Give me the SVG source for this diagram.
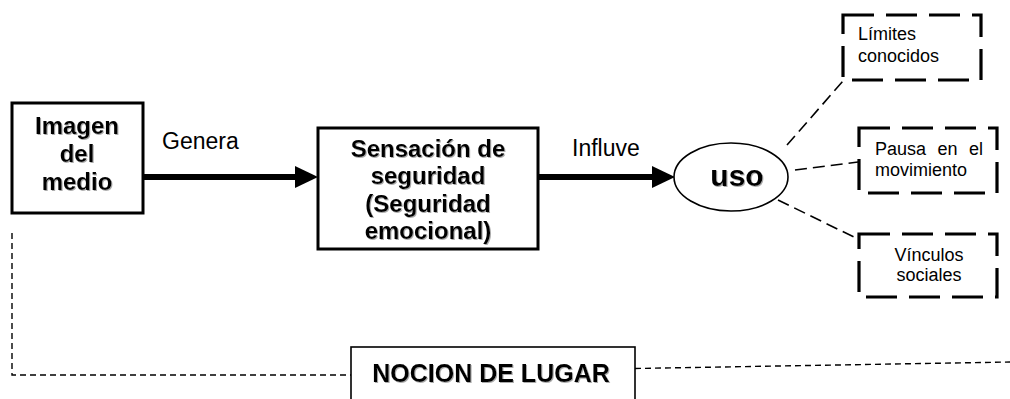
<svg xmlns="http://www.w3.org/2000/svg" width="1010" height="399" viewBox="0 0 1010 399">
<defs>
<style>
.box{fill:#fff;stroke:#000;stroke-width:3}
.thin{fill:#fff;stroke:#000;stroke-width:1.6}
.dbox{fill:#fff;stroke:#000;stroke-width:3.2;stroke-dasharray:31 12}
.shaft{stroke:#000;stroke-width:6;fill:none}
.dl{stroke:#000;stroke-width:1.6;stroke-dasharray:12 6;fill:none}
.dot{stroke:#000;stroke-width:1.4;stroke-dasharray:6 4;fill:none}
.b{font-family:"Liberation Sans",Arial,sans-serif;font-weight:bold;fill:#000;text-anchor:middle;filter:url(#sh)}
.r{font-family:"Liberation Sans",Arial,sans-serif;fill:#000}
.s{font-family:"Liberation Sans",Arial,sans-serif;fill:#000;font-size:18px}
</style>
<filter id="sh" x="-10%" y="-10%" width="130%" height="140%">
<feDropShadow dx="1" dy="1" stdDeviation="0.6" flood-color="#888" flood-opacity="0.7"/>
</filter>
</defs>
<g id="connectors">
<line class="shaft" x1="143" y1="177" x2="296" y2="177"/>
<path d="M295,166 L318,177 L295,188 z" fill="#000"/>
<line class="shaft" x1="538" y1="177" x2="653" y2="177"/>
<path d="M652,166 L675,177 L652,188 z" fill="#000"/>
<line class="dl" x1="787" y1="145" x2="843" y2="81"/>
<line class="dl" x1="795" y1="170" x2="858" y2="162"/>
<line class="dl" x1="778" y1="200" x2="860" y2="240"/>
<polyline class="dot" points="12,233 12,375 351,375"/>
<line class="dot" x1="635" y1="368.5" x2="1010" y2="362"/>
</g>
<g id="imagen">
<rect class="box" x="12" y="103" width="131" height="110"/>
<text class="b" font-size="24" x="77" y="134">Imagen</text>
<text class="b" font-size="24" x="77" y="162">del</text>
<text class="b" font-size="24" x="77" y="190">medio</text>
</g>
<g id="genera">
<text class="r" font-size="23" x="162" y="149">Genera</text>
</g>
<g id="sensacion">
<rect class="box" x="318" y="128" width="220" height="121"/>
<text class="b" font-size="24" x="428" y="157">Sensación de</text>
<text class="b" font-size="24" x="428" y="184">seguridad</text>
<text class="b" font-size="24" x="428" y="212">(Seguridad</text>
<text class="b" font-size="24" x="428" y="239">emocional)</text>
</g>
<g id="influve">
<text class="r" font-size="23" x="572" y="156">Influve</text>
</g>
<g id="uso">
<ellipse cx="731" cy="177" rx="57" ry="34" fill="#fff" stroke="#000" stroke-width="1.6"/>
<text class="b" font-size="30" x="737" y="186">uso</text>
</g>
<g id="limites">
<rect class="dbox" x="843" y="15" width="138" height="65"/>
<text class="s" x="858" y="40">Límites</text>
<text class="s" x="858" y="62">conocidos</text>
</g>
<g id="pausa">
<rect class="dbox" x="859" y="128" width="138" height="65"/>
<text class="s" x="875" y="155" word-spacing="6.5">Pausa en el</text>
<text class="s" x="875" y="176">movimiento</text>
</g>
<g id="vinculos">
<rect class="dbox" x="859" y="234" width="138" height="63"/>
<text class="s" x="929" y="261" text-anchor="middle">Vínculos</text>
<text class="s" x="929" y="281" text-anchor="middle">sociales</text>
</g>
<g id="nocion">
<rect class="thin" x="351" y="347" width="284" height="60"/>
<text class="b" font-size="25" x="491" y="382">NOCION DE LUGAR</text>
</g>
</svg>
